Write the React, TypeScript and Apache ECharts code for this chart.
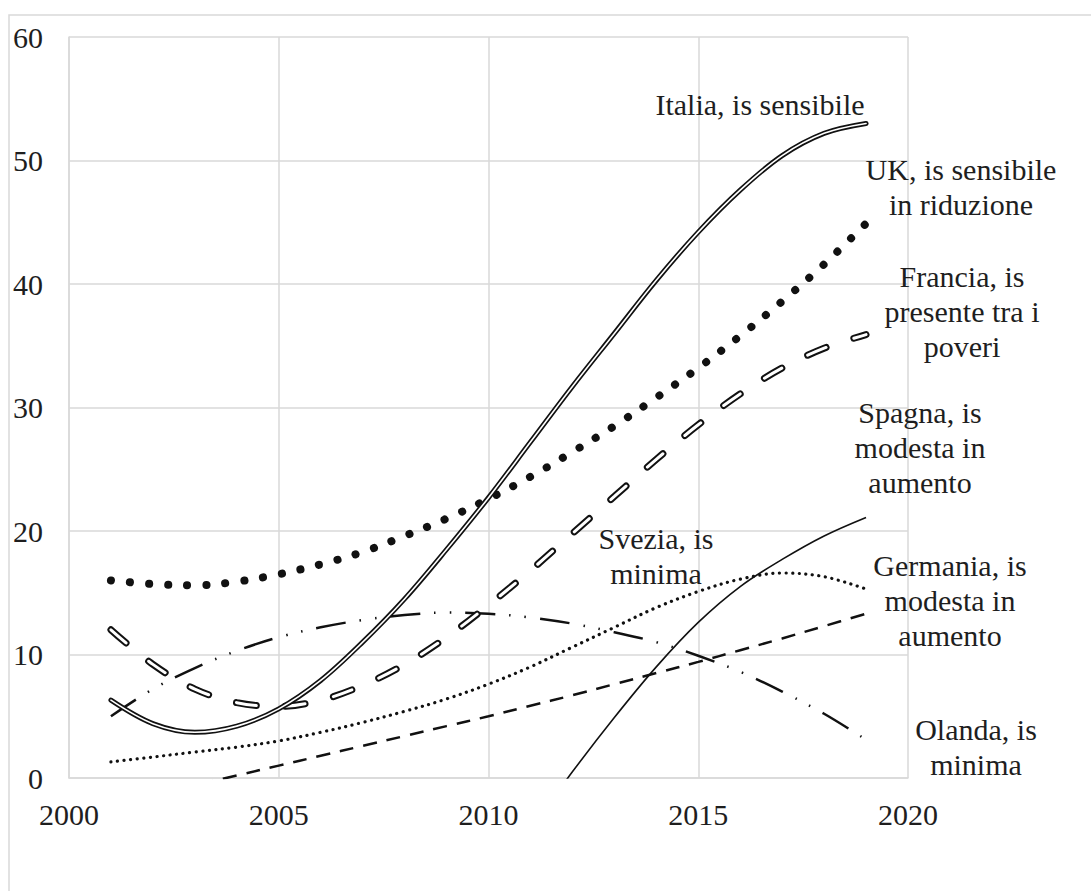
import { useEffect, useRef } from "react";
import * as echarts from "echarts";

// Annual trend values per country (index %)
const years = [2001, 2002, 2003, 2004, 2005, 2006, 2007, 2008, 2009, 2010, 2011, 2012, 2013, 2014, 2015, 2016, 2017, 2018, 2019];
const italia = [6.3, 4.4, 3.7, 4.2, 5.6, 7.9, 11.0, 14.5, 18.5, 22.7, 27.2, 31.7, 36.0, 40.3, 44.2, 47.6, 50.4, 52.2, 53.0];
const uk = [16.0, 15.7, 15.6, 15.9, 16.5, 17.3, 18.3, 19.6, 21.0, 22.6, 24.4, 26.4, 28.5, 30.8, 33.2, 35.8, 38.6, 41.6, 44.9];
const francia = [12.0, 9.2, 7.2, 6.1, 5.8, 6.3, 7.5, 9.2, 11.4, 14.0, 16.8, 19.8, 22.8, 25.8, 28.6, 31.1, 33.2, 34.8, 35.9];
const svezia = [1.3, 1.7, 2.1, 2.5, 3.0, 3.7, 4.5, 5.4, 6.4, 7.6, 9.0, 10.6, 12.2, 13.8, 15.1, 16.1, 16.6, 16.3, 15.3];
const olanda = [5.0, 7.2, 8.9, 10.3, 11.4, 12.2, 12.8, 13.2, 13.4, 13.3, 13.0, 12.5, 11.8, 11.0, 9.9, 8.6, 7.0, 5.2, 3.1];
const germaniaYears = [2002, 2003, 2004, 2005, 2006, 2007, 2008, 2009, 2010, 2011, 2012, 2013, 2014, 2015, 2016, 2017, 2018, 2019];
const germania = [-1.4, -0.6, 0.2, 1.0, 1.8, 2.6, 3.4, 4.2, 5.0, 5.85, 6.7, 7.6, 8.5, 9.4, 10.35, 11.3, 12.3, 13.3];
const spagnaYears = [2011, 2012, 2013, 2014, 2015, 2016, 2017, 2018, 2019];
const spagna = [-4.2, 0.5, 4.9, 9.0, 12.6, 15.5, 17.7, 19.6, 21.1];

// Axis ticks
const xMin = 2000, xMax = 2020, xStep = 5;
const yMin = 0, yMax = 60, yStep = 10;

// Annotation texts
const labelItalia = "Italia, is sensibile";
const labelUK = "UK, is sensibile\nin riduzione";
const labelFrancia = "Francia, is\npresente tra i\npoveri";
const labelSpagna = "Spagna, is\nmodesta in\naumento";
const labelSvezia = "Svezia, is\nminima";
const labelGermania = "Germania, is\nmodesta in\naumento";
const labelOlanda = "Olanda, is\nminima";

const pairs = (xs: number[], ys: number[]) => xs.map((x, i) => [x, ys[i]]);

const FONT = "'Liberation Serif', 'Times New Roman', serif";
const INK = "#1e1e1e";
const GRID = "#d9d9d9";

export default function App() {
  const ref = useRef<HTMLDivElement>(null);

  useEffect(() => {
    if (!ref.current) return;
    const chart = echarts.init(ref.current, null, { renderer: "svg" });

    const base = {
      type: "line" as const,
      showSymbol: false,
      smooth: 0.35,
      clip: true,
      silent: true,
    };

    const text = (str: string, x: number, y: number) => ({
      type: "text",
      x,
      y,
      z: 10,
      style: {
        text: str,
        x: 0,
        y: 0,
        align: "center",
        verticalAlign: "middle",
        font: `30px ${FONT}`,
        lineHeight: 35,
        fill: INK,
      },
    });

    chart.setOption({
      animation: false,
      backgroundColor: "#ffffff",
      grid: { left: 69, top: 37, right: 183, bottom: 113, containLabel: false },
      xAxis: {
        type: "value",
        min: xMin,
        max: xMax,
        interval: xStep,
        axisLine: { show: true, lineStyle: { color: GRID, width: 1.5 } },
        axisTick: { show: false },
        splitLine: { show: true, lineStyle: { color: GRID, width: 1.5 } },
        axisLabel: {
          color: INK, fontFamily: FONT, fontSize: 30, margin: 21,
          formatter: (v: number) => String(v),
        },
      },
      yAxis: {
        type: "value",
        min: yMin,
        max: yMax,
        interval: yStep,
        axisLine: { show: true, lineStyle: { color: GRID, width: 1.5 } },
        axisTick: { show: false },
        splitLine: { show: true, lineStyle: { color: GRID, width: 1.5 } },
        axisLabel: { color: INK, fontFamily: FONT, fontSize: 30, margin: 26 },
      },
      series: [
        // Germania: plain dashes
        { ...base, name: "Germania", data: pairs(germaniaYears, germania),
          lineStyle: { color: "#111", width: 2.5, type: [14, 10] } },
        // Svezia: fine dots
        { ...base, name: "Svezia", data: pairs(years, svezia),
          lineStyle: { color: "#111", width: 3.2, type: [0.1, 6.5], cap: "round" } },
        // Olanda: dash-dot-dot
        { ...base, name: "Olanda", data: pairs(years, olanda),
          lineStyle: { color: "#111", width: 2.5, type: [30, 14, 1.5, 14, 1.5, 14] } },
        // Spagna: thin solid
        { ...base, name: "Spagna", data: pairs(spagnaYears, spagna),
          lineStyle: { color: "#111", width: 1.6 } },
        // Francia: hollow dashes (black outline + white core)
        { ...base, name: "Francia", data: pairs(years, francia),
          lineStyle: { color: "#111", width: 7, type: [20, 29], cap: "round" } },
        { ...base, name: "Francia core", data: pairs(years, francia),
          lineStyle: { color: "#ffffff", width: 3, type: [20, 29], cap: "round" } },
        // UK: large round dots
        { ...base, name: "UK", data: pairs(years, uk),
          lineStyle: { color: "#111", width: 8, type: [0.1, 19], cap: "round" } },
        // Italia: double line (black outline + white core)
        { ...base, name: "Italia", data: pairs(years, italia),
          lineStyle: { color: "#111", width: 5, cap: "round" } },
        { ...base, name: "Italia core", data: pairs(years, italia),
          lineStyle: { color: "#ffffff", width: 1.6, cap: "round" } },
      ],
      graphic: [
        {
          type: "rect",
          z: -1,
          shape: { x: 9, y: 15, width: 1200, height: 1000 },
          style: { fill: "none", stroke: GRID, lineWidth: 1.5 },
          silent: true,
        },
        text(labelItalia, 760, 104),
        text(labelUK, 961, 187),
        text(labelFrancia, 962, 311),
        text(labelSpagna, 920, 447),
        text(labelSvezia, 656, 556),
        text(labelGermania, 950, 600),
        text(labelOlanda, 976, 747),
      ],
    });

    return () => chart.dispose();
  }, []);

  return (
    <div
      ref={ref}
      style={{ position: "fixed", left: 0, top: 0, width: 1091, height: 891, background: "#fff" }}
    />
  );
}
